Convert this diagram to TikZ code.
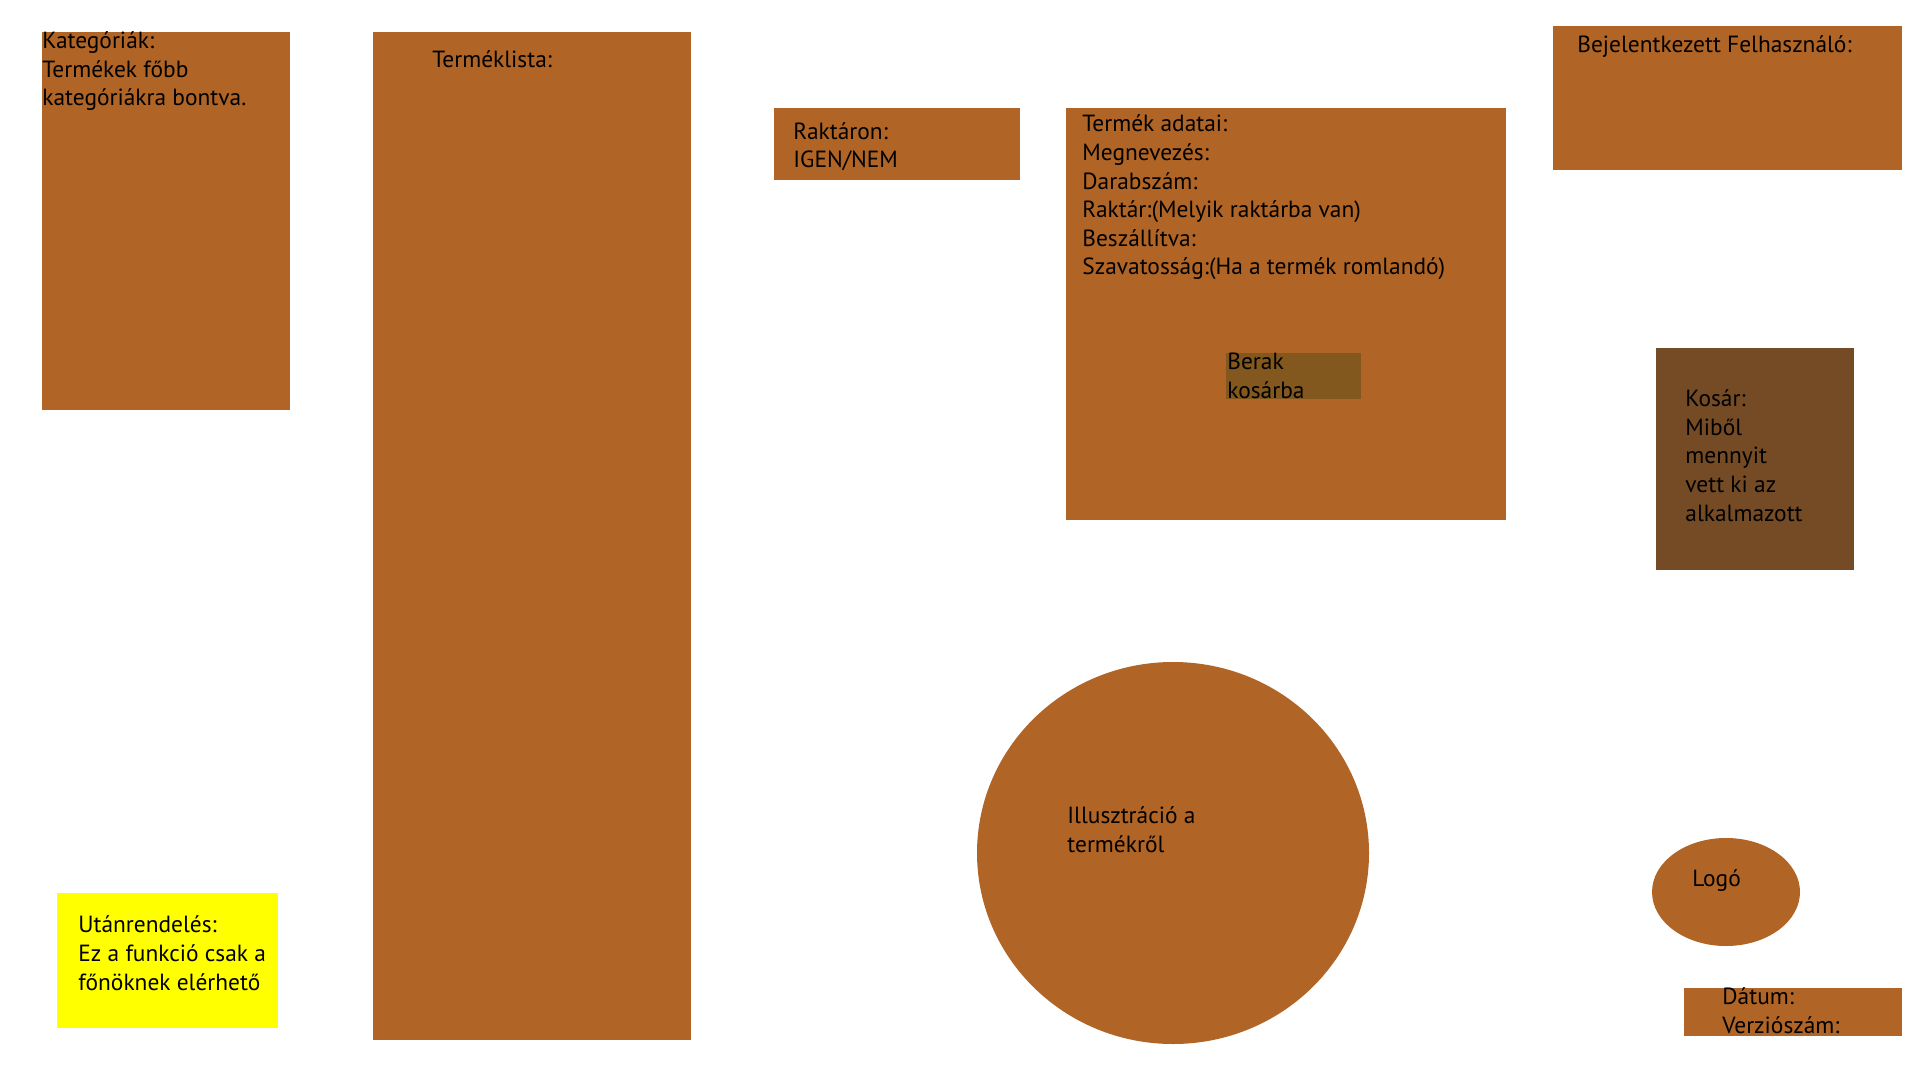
\documentclass[tikz,border=0pt]{standalone}
\usepackage{fontspec}
\setmainfont{PT Sans}
\begin{document}
\begin{tikzpicture}[x=0.5pt,y=-0.5pt,line cap=round,line join=round]
\definecolor{panelbrown}{RGB}{176,100,37}
\definecolor{basketbrown}{RGB}{116,75,37}
\definecolor{buttonbrown}{RGB}{130,88,31}
\definecolor{notice}{RGB}{255,255,0}

% placed at the baseline of the last line
\tikzset{
  paneltext/.style={anchor=base west,align=left,inner sep=0pt,
    font=\fontsize{11.7}{14.3}\selectfont}
}

\useasboundingbox (0,0) rectangle (1920,1080);

% panels
\fill[panelbrown] (42,32) rectangle (290,410);
\fill[panelbrown] (373,32) rectangle (691,1040);
\fill[panelbrown] (774,108) rectangle (1020,180);
\fill[panelbrown] (1066,108) rectangle (1506,520);
\fill[buttonbrown] (1226,353) rectangle (1361,399);
\fill[panelbrown] (1553,26) rectangle (1902,170);
\fill[basketbrown] (1656,348) rectangle (1854,570);
\fill[panelbrown] (1173,853) ellipse [x radius=196, y radius=191];
\fill[panelbrown] (1726,892) ellipse [x radius=74, y radius=54];
\fill[panelbrown] (1684,988) rectangle (1902,1036);
\fill[notice] (57,893) rectangle (278,1028);

% texts
\node[paneltext] (kategoriak) at (42,106) {Kategóriák:\\Termékek főbb\\kategóriákra bontva.};
\node[paneltext] (termeklista) at (432,68) {Terméklista:};
\node[paneltext] (raktaron) at (793,168) {Raktáron:\\IGEN/NEM};
\node[paneltext] (adatok) at (1082,275) {Termék adatai:\\Megnevezés:\\Darabszám:\\Raktár:(Melyik raktárba van)\\Beszállítva:\\Szavatosság:(Ha a termék romlandó)};
\node[paneltext] (berak) at (1227,398) {Berak\\kosárba};
\node[paneltext] (felhasznalo) at (1577,53) {Bejelentkezett Felhasználó:};
\node[paneltext] (kosar) at (1685,521) {Kosár:\\Miből\\mennyit\\vett ki az\\alkalmazott};
\node[paneltext] (illusztracio) at (1067,852) {Illusztráció a\\termékről};
\node[paneltext] (logo) at (1692,886) {Logó};
\node[paneltext] (datum) at (1722,1033) {Dátum:\\Verziószám:};
\node[paneltext] (utanrendeles) at (78,990) {Utánrendelés:\\Ez a funkció csak a\\főnöknek elérhető};
\end{tikzpicture}
\end{document}
